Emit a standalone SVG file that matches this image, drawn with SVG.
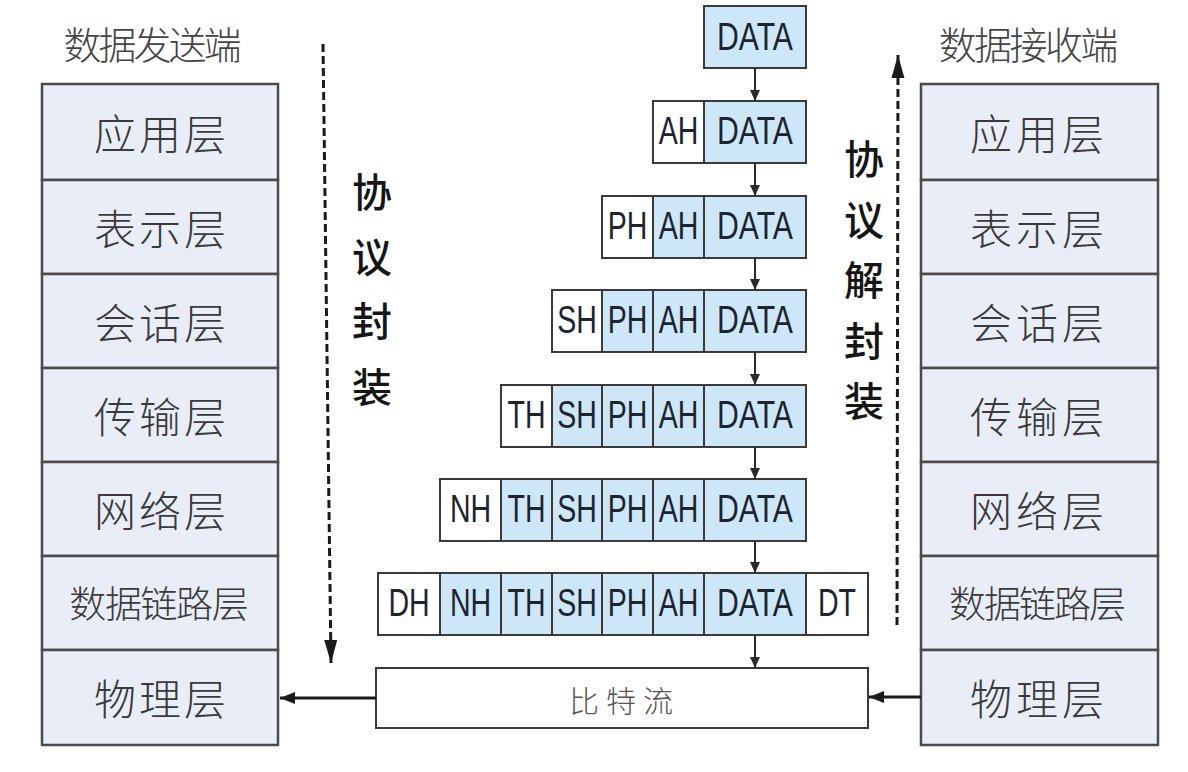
<svg xmlns="http://www.w3.org/2000/svg" width="1188" height="772" viewBox="0 0 1188 772">
<style>
.bg{fill:#ffffff}
.layer rect{fill:#e9edf8;stroke:#4a4a4a;stroke-width:2.5}
.lt{font-family:"Noto Sans CJK SC",sans-serif;font-size:42px;font-weight:300;fill:#3a3a3a;text-anchor:middle;dominant-baseline:central}
.lt5{font-size:37px}
.title{font-family:"Noto Sans CJK SC",sans-serif;font-size:38px;font-weight:300;fill:#444;text-anchor:middle;dominant-baseline:central}
.vl{font-family:"Noto Sans CJK SC",sans-serif;font-size:40px;font-weight:500;fill:#151515;text-anchor:middle;dominant-baseline:central}
.w{fill:#ffffff;stroke:#3a3a3a;stroke-width:2}
.b{fill:#cde7f8;stroke:#3a3a3a;stroke-width:2}
.pt{font-family:"Liberation Sans",Arial,sans-serif;font-size:38px;fill:#1c2430;text-anchor:middle}
.bs{font-family:"Noto Sans CJK SC",sans-serif;font-size:30px;font-weight:300;fill:#555;text-anchor:middle;dominant-baseline:central}
.c{stroke:#2a2a2a;stroke-width:2;fill:none}
.h{stroke:#1a1a1a;stroke-width:3;fill:none}
.d{stroke:#1a1a1a;stroke-width:3;fill:none;stroke-dasharray:8 4}
</style>
<defs>
<marker id="as" markerUnits="userSpaceOnUse" markerWidth="12" markerHeight="12" refX="11" refY="5" orient="auto"><path d="M0,0 L11,5 L0,10 z" fill="#2a2a2a"/></marker>
<marker id="ah" markerUnits="userSpaceOnUse" markerWidth="16" markerHeight="14" refX="15" refY="6" orient="auto"><path d="M0,0 L15,6 L0,12 z" fill="#1a1a1a"/></marker>
<marker id="ad" markerUnits="userSpaceOnUse" markerWidth="24" markerHeight="14" refX="23" refY="6.5" orient="auto"><path d="M0,0 L23,6.5 L0,13 z" fill="#1a1a1a"/></marker>
</defs>
<rect class="bg" x="0" y="0" width="1188" height="772"/>

<g id="title-send"><text class="title" x="82.5 117.5 152.5 187.5 222.5" y="42">数据发送端</text></g>
<g id="title-recv"><text class="title" x="957.7 993 1028.5 1064 1099.3" y="42">数据接收端</text></g>

<g id="sender-stack" class="layer">
<g id="s-app"><rect x="42" y="84" width="236" height="96"/><text class="lt" x="115 160 205" y="131">应用层</text></g>
<g id="s-pres"><rect x="42" y="180" width="236" height="94"/><text class="lt" x="115 160 205" y="226">表示层</text></g>
<g id="s-sess"><rect x="42" y="274" width="236" height="94"/><text class="lt" x="115 160 205" y="320">会话层</text></g>
<g id="s-trans"><rect x="42" y="368" width="236" height="94"/><text class="lt" x="115 160 205" y="414">传输层</text></g>
<g id="s-net"><rect x="42" y="462" width="236" height="94"/><text class="lt" x="115 160 205" y="508">网络层</text></g>
<g id="s-link"><rect x="42" y="556" width="236" height="94"/><text class="lt lt5" x="87.8 123.4 159 194.6 230.2" y="602">数据链路层</text></g>
<g id="s-phy"><rect x="42" y="650" width="236" height="95"/><text class="lt" x="115 160 205" y="696">物理层</text></g>
</g>

<g id="receiver-stack" class="layer">
<g id="r-app"><rect x="921" y="84" width="237" height="96"/><text class="lt" x="991 1037 1083" y="131">应用层</text></g>
<g id="r-pres"><rect x="921" y="180" width="237" height="94"/><text class="lt" x="991 1037 1083" y="226">表示层</text></g>
<g id="r-sess"><rect x="921" y="274" width="237" height="94"/><text class="lt" x="991 1037 1083" y="320">会话层</text></g>
<g id="r-trans"><rect x="921" y="368" width="237" height="94"/><text class="lt" x="991 1037 1083" y="414">传输层</text></g>
<g id="r-net"><rect x="921" y="462" width="237" height="94"/><text class="lt" x="991 1037 1083" y="508">网络层</text></g>
<g id="r-link"><rect x="921" y="556" width="237" height="94"/><text class="lt lt5" x="967.5 1002.5 1037.5 1072.5 1107.5" y="602">数据链路层</text></g>
<g id="r-phy"><rect x="921" y="650" width="237" height="95"/><text class="lt" x="991 1037 1083" y="696">物理层</text></g>
</g>

<g id="label-encap"><text class="vl" x="372 372 372 372" y="190 255 319 385">协议封装</text></g>
<g id="label-decap"><text class="vl" x="864 864 864 864 864" y="157 218 278 339 399">协议解封装</text></g>

<g id="pkt-0">
<rect class="b" x="704" y="6" width="102" height="62"/>
<text class="pt" x="755" y="50" textLength="76" lengthAdjust="spacingAndGlyphs">DATA</text>
</g>
<g id="pkt-1">
<rect class="w" x="653" y="101" width="51" height="62"/><rect class="b" x="704" y="101" width="102" height="62"/>
<text class="pt" x="678.5" y="144" textLength="39.6" lengthAdjust="spacingAndGlyphs">AH</text>
<text class="pt" x="755" y="144" textLength="76" lengthAdjust="spacingAndGlyphs">DATA</text>
</g>
<g id="pkt-2">
<rect class="w" x="602" y="196" width="51" height="62"/><rect class="b" x="653" y="196" width="51" height="62"/><rect class="b" x="704" y="196" width="102" height="62"/>
<text class="pt" x="627.5" y="239" textLength="39.6" lengthAdjust="spacingAndGlyphs">PH</text>
<text class="pt" x="678.5" y="239" textLength="39.6" lengthAdjust="spacingAndGlyphs">AH</text>
<text class="pt" x="755" y="239" textLength="76" lengthAdjust="spacingAndGlyphs">DATA</text>
</g>
<g id="pkt-3">
<rect class="w" x="552" y="290" width="50" height="62"/><rect class="b" x="602" y="290" width="51" height="62"/><rect class="b" x="653" y="290" width="51" height="62"/><rect class="b" x="704" y="290" width="102" height="62"/>
<text class="pt" x="577" y="333" textLength="39.6" lengthAdjust="spacingAndGlyphs">SH</text>
<text class="pt" x="627.5" y="333" textLength="39.6" lengthAdjust="spacingAndGlyphs">PH</text>
<text class="pt" x="678.5" y="333" textLength="39.6" lengthAdjust="spacingAndGlyphs">AH</text>
<text class="pt" x="755" y="333" textLength="76" lengthAdjust="spacingAndGlyphs">DATA</text>
</g>
<g id="pkt-4">
<rect class="w" x="501" y="385" width="51" height="62"/><rect class="b" x="552" y="385" width="50" height="62"/><rect class="b" x="602" y="385" width="51" height="62"/><rect class="b" x="653" y="385" width="51" height="62"/><rect class="b" x="704" y="385" width="102" height="62"/>
<text class="pt" x="526.5" y="428" textLength="38" lengthAdjust="spacingAndGlyphs">TH</text>
<text class="pt" x="577" y="428" textLength="39.6" lengthAdjust="spacingAndGlyphs">SH</text>
<text class="pt" x="627.5" y="428" textLength="39.6" lengthAdjust="spacingAndGlyphs">PH</text>
<text class="pt" x="678.5" y="428" textLength="39.6" lengthAdjust="spacingAndGlyphs">AH</text>
<text class="pt" x="755" y="428" textLength="76" lengthAdjust="spacingAndGlyphs">DATA</text>
</g>
<g id="pkt-5">
<rect class="w" x="440" y="479" width="61" height="62"/><rect class="b" x="501" y="479" width="51" height="62"/><rect class="b" x="552" y="479" width="50" height="62"/><rect class="b" x="602" y="479" width="51" height="62"/><rect class="b" x="653" y="479" width="51" height="62"/><rect class="b" x="704" y="479" width="102" height="62"/>
<text class="pt" x="470.5" y="522" textLength="41.2" lengthAdjust="spacingAndGlyphs">NH</text>
<text class="pt" x="526.5" y="522" textLength="38" lengthAdjust="spacingAndGlyphs">TH</text>
<text class="pt" x="577" y="522" textLength="39.6" lengthAdjust="spacingAndGlyphs">SH</text>
<text class="pt" x="627.5" y="522" textLength="39.6" lengthAdjust="spacingAndGlyphs">PH</text>
<text class="pt" x="678.5" y="522" textLength="39.6" lengthAdjust="spacingAndGlyphs">AH</text>
<text class="pt" x="755" y="522" textLength="76" lengthAdjust="spacingAndGlyphs">DATA</text>
</g>
<g id="pkt-6">
<rect class="w" x="378" y="573" width="62" height="62"/><rect class="b" x="440" y="573" width="61" height="62"/><rect class="b" x="501" y="573" width="51" height="62"/><rect class="b" x="552" y="573" width="50" height="62"/><rect class="b" x="602" y="573" width="51" height="62"/><rect class="b" x="653" y="573" width="51" height="62"/><rect class="b" x="704" y="573" width="102" height="62"/><rect class="w" x="806" y="573" width="62" height="62"/>
<text class="pt" x="409" y="616" textLength="41.2" lengthAdjust="spacingAndGlyphs">DH</text>
<text class="pt" x="470.5" y="616" textLength="41.2" lengthAdjust="spacingAndGlyphs">NH</text>
<text class="pt" x="526.5" y="616" textLength="38" lengthAdjust="spacingAndGlyphs">TH</text>
<text class="pt" x="577" y="616" textLength="39.6" lengthAdjust="spacingAndGlyphs">SH</text>
<text class="pt" x="627.5" y="616" textLength="39.6" lengthAdjust="spacingAndGlyphs">PH</text>
<text class="pt" x="678.5" y="616" textLength="39.6" lengthAdjust="spacingAndGlyphs">AH</text>
<text class="pt" x="755" y="616" textLength="76" lengthAdjust="spacingAndGlyphs">DATA</text>
<text class="pt" x="837" y="616" textLength="38" lengthAdjust="spacingAndGlyphs">DT</text>
</g>
<g id="bitstream">
<rect class="w" x="376" y="668" width="492" height="60"/>
<text class="bs" x="584 621 658" y="699">比特流</text>
</g>

<g id="connectors">
<line class="c" x1="755" y1="68" x2="755" y2="101" marker-end="url(#as)"/>
<line class="c" x1="755" y1="163" x2="755" y2="196" marker-end="url(#as)"/>
<line class="c" x1="755" y1="258" x2="755" y2="290" marker-end="url(#as)"/>
<line class="c" x1="755" y1="352" x2="755" y2="385" marker-end="url(#as)"/>
<line class="c" x1="755" y1="447" x2="755" y2="479" marker-end="url(#as)"/>
<line class="c" x1="755" y1="541" x2="755" y2="573" marker-end="url(#as)"/>
<line class="c" x1="755" y1="635" x2="755" y2="668" marker-end="url(#as)"/>
<line class="h" x1="376" y1="698" x2="280" y2="698" marker-end="url(#ah)"/>
<line class="h" x1="921" y1="697" x2="869" y2="697" marker-end="url(#ah)"/>
<line class="d" x1="323" y1="44" x2="331" y2="663" marker-end="url(#ad)"/>
<line class="d" x1="897" y1="625" x2="898" y2="55" marker-end="url(#ad)"/>
</g>
</svg>
